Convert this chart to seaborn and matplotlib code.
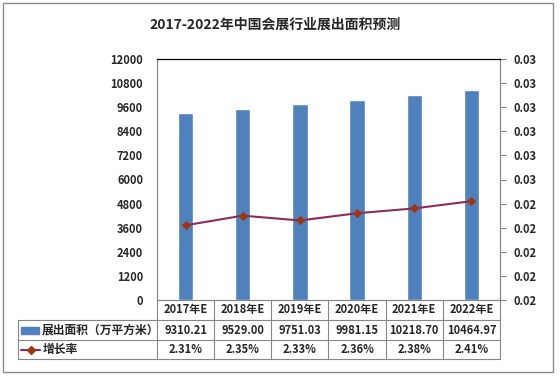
import numpy as np
import matplotlib
matplotlib.use("Agg")
import matplotlib.pyplot as plt
import matplotlib.transforms as mtransforms
from matplotlib.patches import Rectangle
from matplotlib.lines import Line2D
import seaborn as sns

# data
years = ["2017年E", "2018年E", "2019年E", "2020年E", "2021年E", "2022年E"]
area = [9310.21, 9529.00, 9751.03, 9981.15, 10218.70, 10464.97]
growth = [0.0231, 0.0235, 0.0233, 0.0236, 0.0238, 0.0241]
left_ticks = list(range(0, 12001, 1200))
right_ticks = [0.020, 0.021, 0.022, 0.023, 0.024, 0.025, 0.026, 0.027, 0.028, 0.029, 0.030]
right_labels = ["0.02"] * 5 + ["0.03"] * 6
bar_name = "展出面积（万平方米）"
line_name = "增长率"
title = "2017-2022年中国会展行业展出面积预测"

sns.set_style("white")
plt.rcParams["font.family"] = ["Noto Sans CJK SC", "DejaVu Sans"]
plt.rcParams["font.weight"] = "bold"

W, H = 560, 378
fig = plt.figure(figsize=(W / 100, H / 100), dpi=100)


def fx(x):
    return x / W


def fy(y):
    return 1 - y / H


# plot area in pixel box
L, R, T, B = 157, 500, 59, 300
ax = fig.add_axes([fx(L), fy(B), fx(R) - fx(L), (B - T) / H])

bar_blue = "#4F81BD"
line_col = "#8B2C5C"
mark_col = "#A0360E"
grid_col = "#868686"
fs = 8

sns.barplot(x=list(range(len(years))), y=area, ax=ax, color=bar_blue,
            width=0.27, saturation=1, native_scale=True)
ax.set_xlim(-0.5, len(years) - 0.5)
ax.set_ylim(0, 12000)
ax.set_yticks(left_ticks)
ax.set_yticklabels([str(t) for t in left_ticks], fontsize=fs, fontweight="bold")
ax.tick_params(axis="y", length=0, pad=10)
ax.set_xticks([])
ax.set_xlabel("")
ax.set_ylabel("")

ax2 = ax.twinx()
sns.lineplot(x=list(range(len(years))), y=growth, ax=ax2, color=line_col,
             linewidth=1.5, marker="D", markersize=4.5,
             markerfacecolor=mark_col, markeredgecolor=mark_col)
ax2.set_ylim(0.02, 0.03)
ax2.set_yticks(right_ticks)
ax2.set_yticklabels(right_labels, fontsize=fs, fontweight="bold")
ax2.tick_params(axis="y", length=4, width=0.8, color=grid_col, pad=6)
ax2.set_xlim(-0.5, len(years) - 0.5)
ax2.set_ylabel("")

for a in (ax, ax2):
    for s in a.spines.values():
        s.set_color(grid_col)
        s.set_linewidth(0.8)
    a.spines["top"].set_color("black")

# title
fig.text(fx(275), fy(25), title, ha="center", va="center",
         fontsize=10, fontweight="bold")

# data table under the plot
tr = mtransforms.blended_transform_factory(ax.transData, fig.transFigure)
rows_y = [300, 320, 340, 359]
n = len(years)


def hline(y, x0_px, x1_px):
    fig.add_artist(Line2D([fx(x0_px), fx(x1_px)], [fy(y), fy(y)],
                          color=grid_col, lw=0.8, transform=fig.transFigure))


def vline_data(xd, y0, y1):
    fig.add_artist(Line2D([xd, xd], [fy(y0), fy(y1)], color=grid_col,
                          lw=0.8, transform=tr))


hline(rows_y[1], 18, R)
hline(rows_y[2], 18, R)
hline(rows_y[3], 18, R)
fig.add_artist(Line2D([fx(18), fx(18)], [fy(rows_y[1]), fy(rows_y[3])],
                      color=grid_col, lw=0.8, transform=fig.transFigure))
for i in range(n + 1):
    vline_data(i - 0.5, rows_y[0], rows_y[3])

for i in range(n):
    fig.text(i, fy((rows_y[0] + rows_y[1]) / 2), years[i], transform=tr,
             ha="center", va="center", fontsize=fs, fontweight="bold")
    fig.text(i, fy((rows_y[1] + rows_y[2]) / 2), f"{area[i]:.2f}", transform=tr,
             ha="center", va="center", fontsize=fs, fontweight="bold")
    fig.text(i, fy((rows_y[2] + rows_y[3]) / 2), f"{growth[i] * 100:.2f}%",
             transform=tr, ha="center", va="center", fontsize=fs,
             fontweight="bold")

# legend keys in the first column
ym = (rows_y[1] + rows_y[2]) / 2
fig.add_artist(Rectangle((fx(21), fy(ym + 3.5)), fx(39) - fx(21), 7 / H,
                         color=bar_blue, transform=fig.transFigure))
fig.text(fx(42), fy(ym), bar_name, ha="left", va="center", fontsize=8.5,
         fontweight="bold")
ym = (rows_y[2] + rows_y[3]) / 2
fig.add_artist(Line2D([fx(21), fx(40)], [fy(ym), fy(ym)], color=line_col,
                      lw=1.5, transform=fig.transFigure))
fig.add_artist(Line2D([fx(30.5)], [fy(ym)], marker="D", markersize=4.5,
                      color=mark_col, transform=fig.transFigure))
fig.text(fx(43), fy(ym), line_name, ha="left", va="center", fontsize=8.5,
         fontweight="bold")

# outer chart border
fig.add_artist(Rectangle((fx(3), fy(372)), fx(553) - fx(3), (372 - 3) / H,
                         fill=False, edgecolor="#8C8C8C", lw=1,
                         transform=fig.transFigure))

fig.savefig("out.png", dpi=100)
